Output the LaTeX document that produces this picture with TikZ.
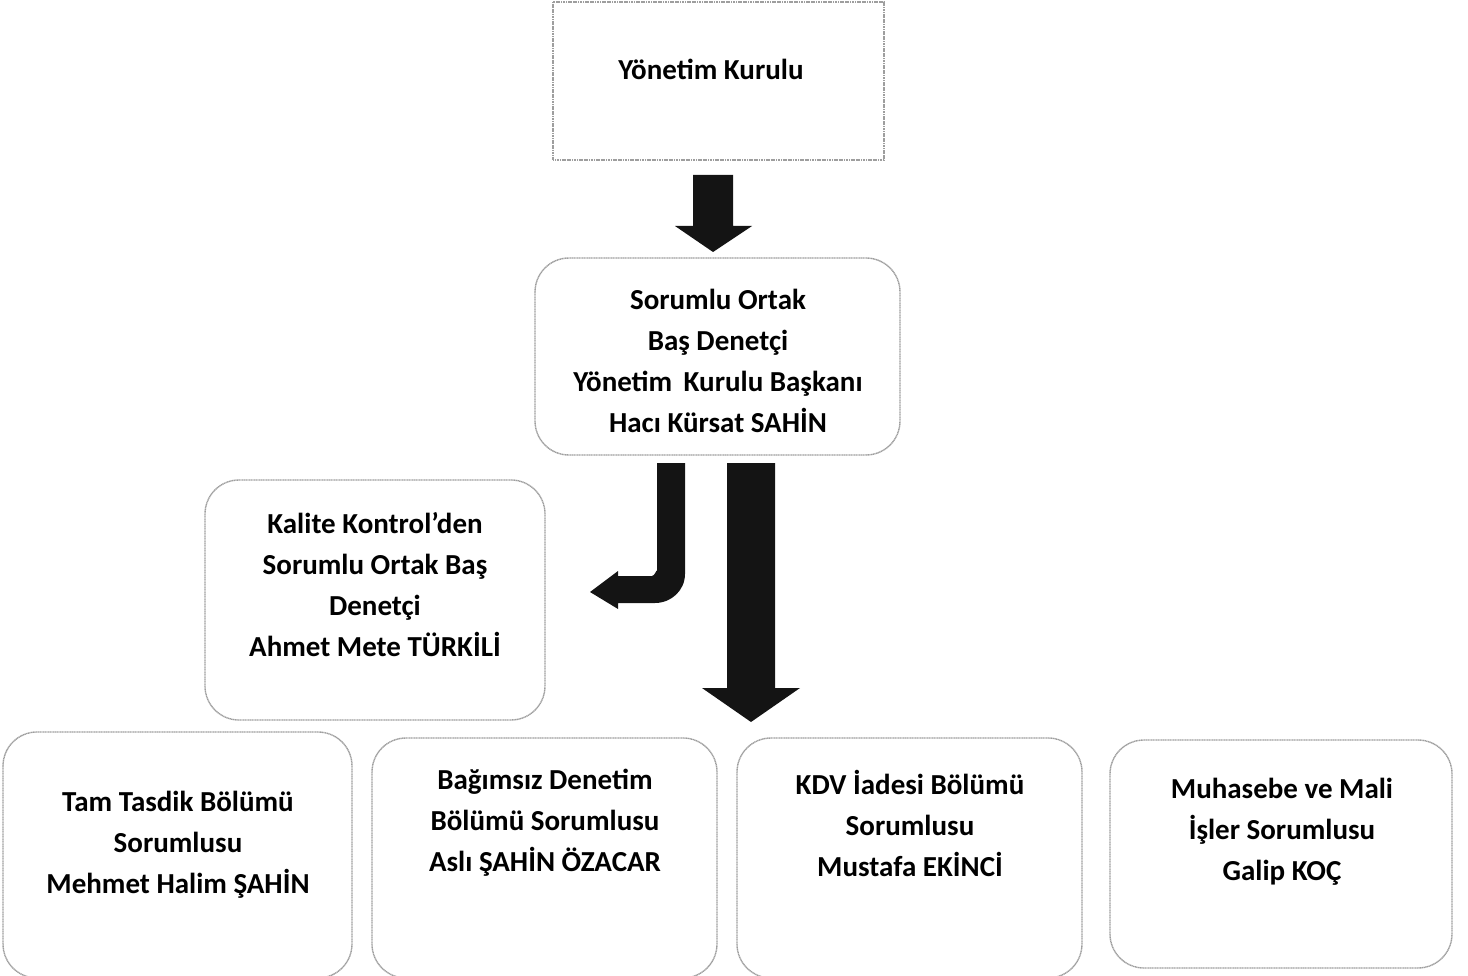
\documentclass[tikz,border=0pt]{standalone}
\usepackage{fontspec}
\setmainfont{Carlito}
\begin{document}
\begin{tikzpicture}[x=1pt,y=-1pt,
  frame/.style={draw=black!38, line width=1.4pt, dash pattern=on 1.2pt off 0.5pt, fill=none},
  rbox/.style={frame, rounded corners=34pt},
  txt/.style={align=center, font={\bfseries\fontsize{29}{41}\selectfont}, inner sep=0pt},
  blk/.style={fill=black!92, draw=none}]
\useasboundingbox (0,0) rectangle (1468,976);
% boxes
\draw[frame] (553,2) rectangle (884,160);
\node[txt] (yk) at (711,69) {Yönetim Kurulu};
\draw[rbox] (535,258) rectangle (900,455);
\node[txt] (so) at (718,361) {Sorumlu Ortak\\Baş Denetçi\\Yönetim\, Kurulu Başkanı\\Hacı Kürsat SAHİN};
\draw[rbox] (205,480) rectangle (545,720);
\node[txt] (kk) at (375,585) {Kalite Kontrol’den\\Sorumlu Ortak Baş\\Denetçi\\Ahmet Mete TÜRKİLİ};
\draw[rbox] (3,732) rectangle (352,978);
\node[txt] (tt) at (178,845) {Tam Tasdik Bölümü\\Sorumlusu\\Mehmet Halim ŞAHİN};
\draw[rbox] (372,738) rectangle (717,978);
\node[txt] (bd) at (545,823) {Bağımsız Denetim\\Bölümü Sorumlusu\\Aslı ŞAHİN ÖZACAR};
\draw[rbox] (737,738) rectangle (1082,978);
\node[txt] (kd) at (910,823) {KDV İadesi Bölümü\\Sorumlusu\\Mustafa EKİNCİ};
\draw[rbox] (1110,740) rectangle (1452,968);
\node[txt] (mm) at (1282,832) {Muhasebe ve Mali\\İşler Sorumlusu\\Galip KOÇ};
% arrows
\fill[blk] (693,175) -- (733,175) -- (733,226) -- (752,226) -- (713,252) -- (675,226) -- (693,226) -- cycle;
\fill[blk] (657,463) -- (685,463) -- (685,574) to[out=-90,in=0] (655,603) -- (618,603) -- (618,609) -- (590,592) -- (618,571) -- (618,576) -- (652,576) to[out=0,in=90] (657,571) -- cycle;
\fill[blk] (727,463) -- (775,463) -- (775,688) -- (800,688) -- (751,722) -- (702,688) -- (727,688) -- cycle;
\end{tikzpicture}
\end{document}
